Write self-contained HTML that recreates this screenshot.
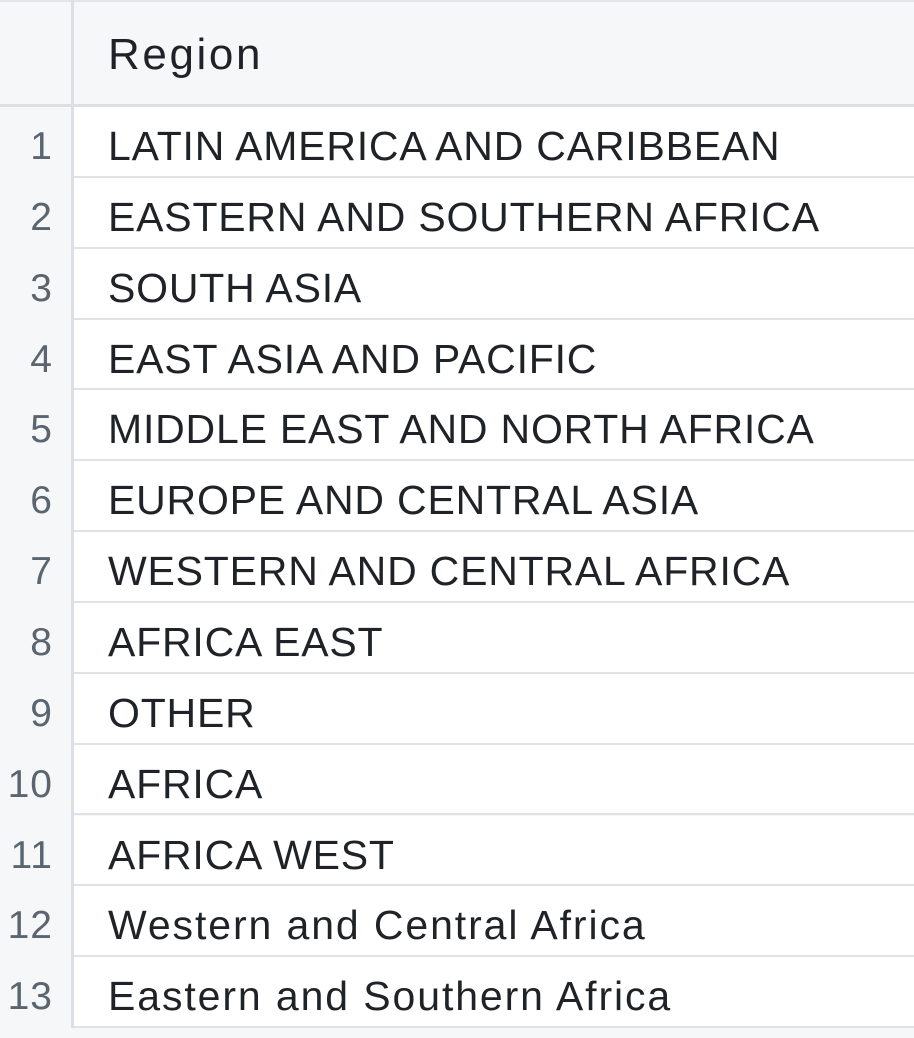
<!DOCTYPE html>
<html><head><meta charset="utf-8"><style>
body{margin:0;width:914px;height:1038px;overflow:hidden;background:#f6f7f9;font-family:"Liberation Sans",sans-serif;position:relative}
.hdr{position:absolute;left:0;top:0;width:914px;height:107px;background:#f6f7f9;border-top:2px solid #e3e5e8;border-bottom:3px solid #dcdfe3;box-sizing:border-box}
.vline{position:absolute;left:71px;top:0;width:3px;height:1028px;background:#dcdfe3}
.cell{position:absolute;left:74px;width:840px;background:#fff;border-bottom:2px solid #dfe2e6;box-sizing:border-box}
.txt{position:absolute;left:108px;font-size:41px;color:#1f2328;line-height:1;letter-spacing:0.8px;white-space:nowrap}
.txt.mixed{letter-spacing:1.9px}
.num{position:absolute;left:0;width:53px;text-align:right;font-size:39px;color:#5b6570;line-height:1;letter-spacing:1px}
.h{position:absolute;left:108px;top:33px;font-size:44px;color:#1f2328;line-height:1;letter-spacing:2.6px}
</style></head><body>
<div class="hdr"></div>
<div class="h">Region</div>
<div id="rows"></div>
<div class="vline"></div>
<script>
const regions=["LATIN AMERICA AND CARIBBEAN","EASTERN AND SOUTHERN AFRICA","SOUTH ASIA","EAST ASIA AND PACIFIC","MIDDLE EAST AND NORTH AFRICA","EUROPE AND CENTRAL ASIA","WESTERN AND CENTRAL AFRICA","AFRICA EAST","OTHER","AFRICA","AFRICA WEST","Western and Central Africa","Eastern and Southern Africa"];
const root=document.getElementById('rows');
regions.forEach((r,i)=>{
  const top=107+i*70.85;
  const c=document.createElement('div');c.className='cell';
  
  
  c.style.top=top+'px';c.style.height='70.85px';root.appendChild(c);
  const n=document.createElement('div');n.className='num';n.textContent=i+1;
  
  
  n.style.top=(top+20)+'px';root.appendChild(n);
  const t=document.createElement('div');t.className='txt'+(/[a-z]/.test(r)?' mixed':'');t.textContent=r;
  
  
  t.style.top=(top+19)+'px';root.appendChild(t);
});
</script>
</body></html>
